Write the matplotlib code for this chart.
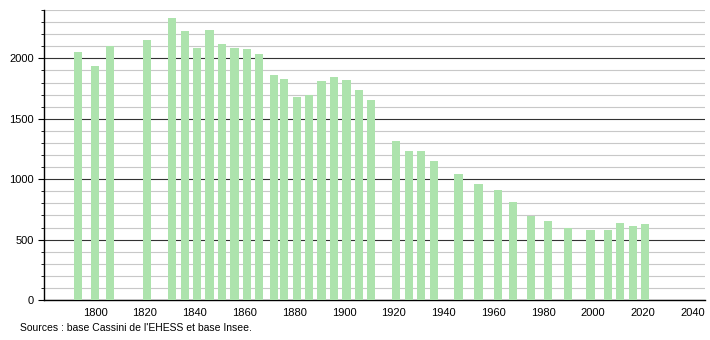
import matplotlib.pyplot as plt
from matplotlib.ticker import MultipleLocator

plt.rcParams['font.family'] = ['Liberation Sans', 'DejaVu Sans']

# census years and population
years = [1793, 1800, 1806, 1821, 1831, 1836, 1841, 1846, 1851, 1856, 1861, 1866,
         1872, 1876, 1881, 1886, 1891, 1896, 1901, 1906, 1911, 1921, 1926, 1931,
         1936, 1946, 1954, 1962, 1968, 1975, 1982, 1990, 1999, 2006, 2011, 2016, 2021]
population = [2055, 1935, 2100, 2150, 2330, 2230, 2088, 2238, 2122, 2088, 2080, 2038,
              1864, 1830, 1683, 1700, 1814, 1847, 1822, 1741, 1656, 1320, 1231, 1231,
              1154, 1040, 957, 907, 807, 699, 657, 596, 582, 582, 638, 613, 632]
xticks = [1800, 1820, 1840, 1860, 1880, 1900, 1920, 1940, 1960, 1980, 2000, 2020, 2040]
source = "Sources : base Cassini de l'EHESS et base Insee."

fig = plt.figure(figsize=(7.1, 3.4), dpi=100)
ax = fig.add_axes([44 / 710, 40 / 340, 661 / 710, 290 / 340])

ax.bar(years, population, width=3.3, color='#ade3ad', zorder=3)

ax.set_xlim(1779.5, 2045)
ax.set_ylim(0, 2400)
ax.set_xticks(xticks)
ax.yaxis.set_major_locator(MultipleLocator(500))
ax.yaxis.set_minor_locator(MultipleLocator(100))

ax.grid(axis='y', which='minor', color='#c8c8c8', linewidth=0.8, zorder=1)
ax.grid(axis='y', which='major', color='#333333', linewidth=0.8, zorder=2)

for s in ['top', 'right']:
    ax.spines[s].set_visible(False)
ax.spines['left'].set_linewidth(1.0)
ax.spines['bottom'].set_linewidth(1.0)

ax.tick_params(axis='x', length=0, labelsize=8, pad=6)
ax.tick_params(axis='y', which='major', length=4, labelsize=8)
ax.tick_params(axis='y', which='minor', length=2)

fig.text(20 / 710, 1 - 328 / 340, source, fontsize=7.5, va='center', ha='left')

fig.savefig('out.png', dpi=100)
